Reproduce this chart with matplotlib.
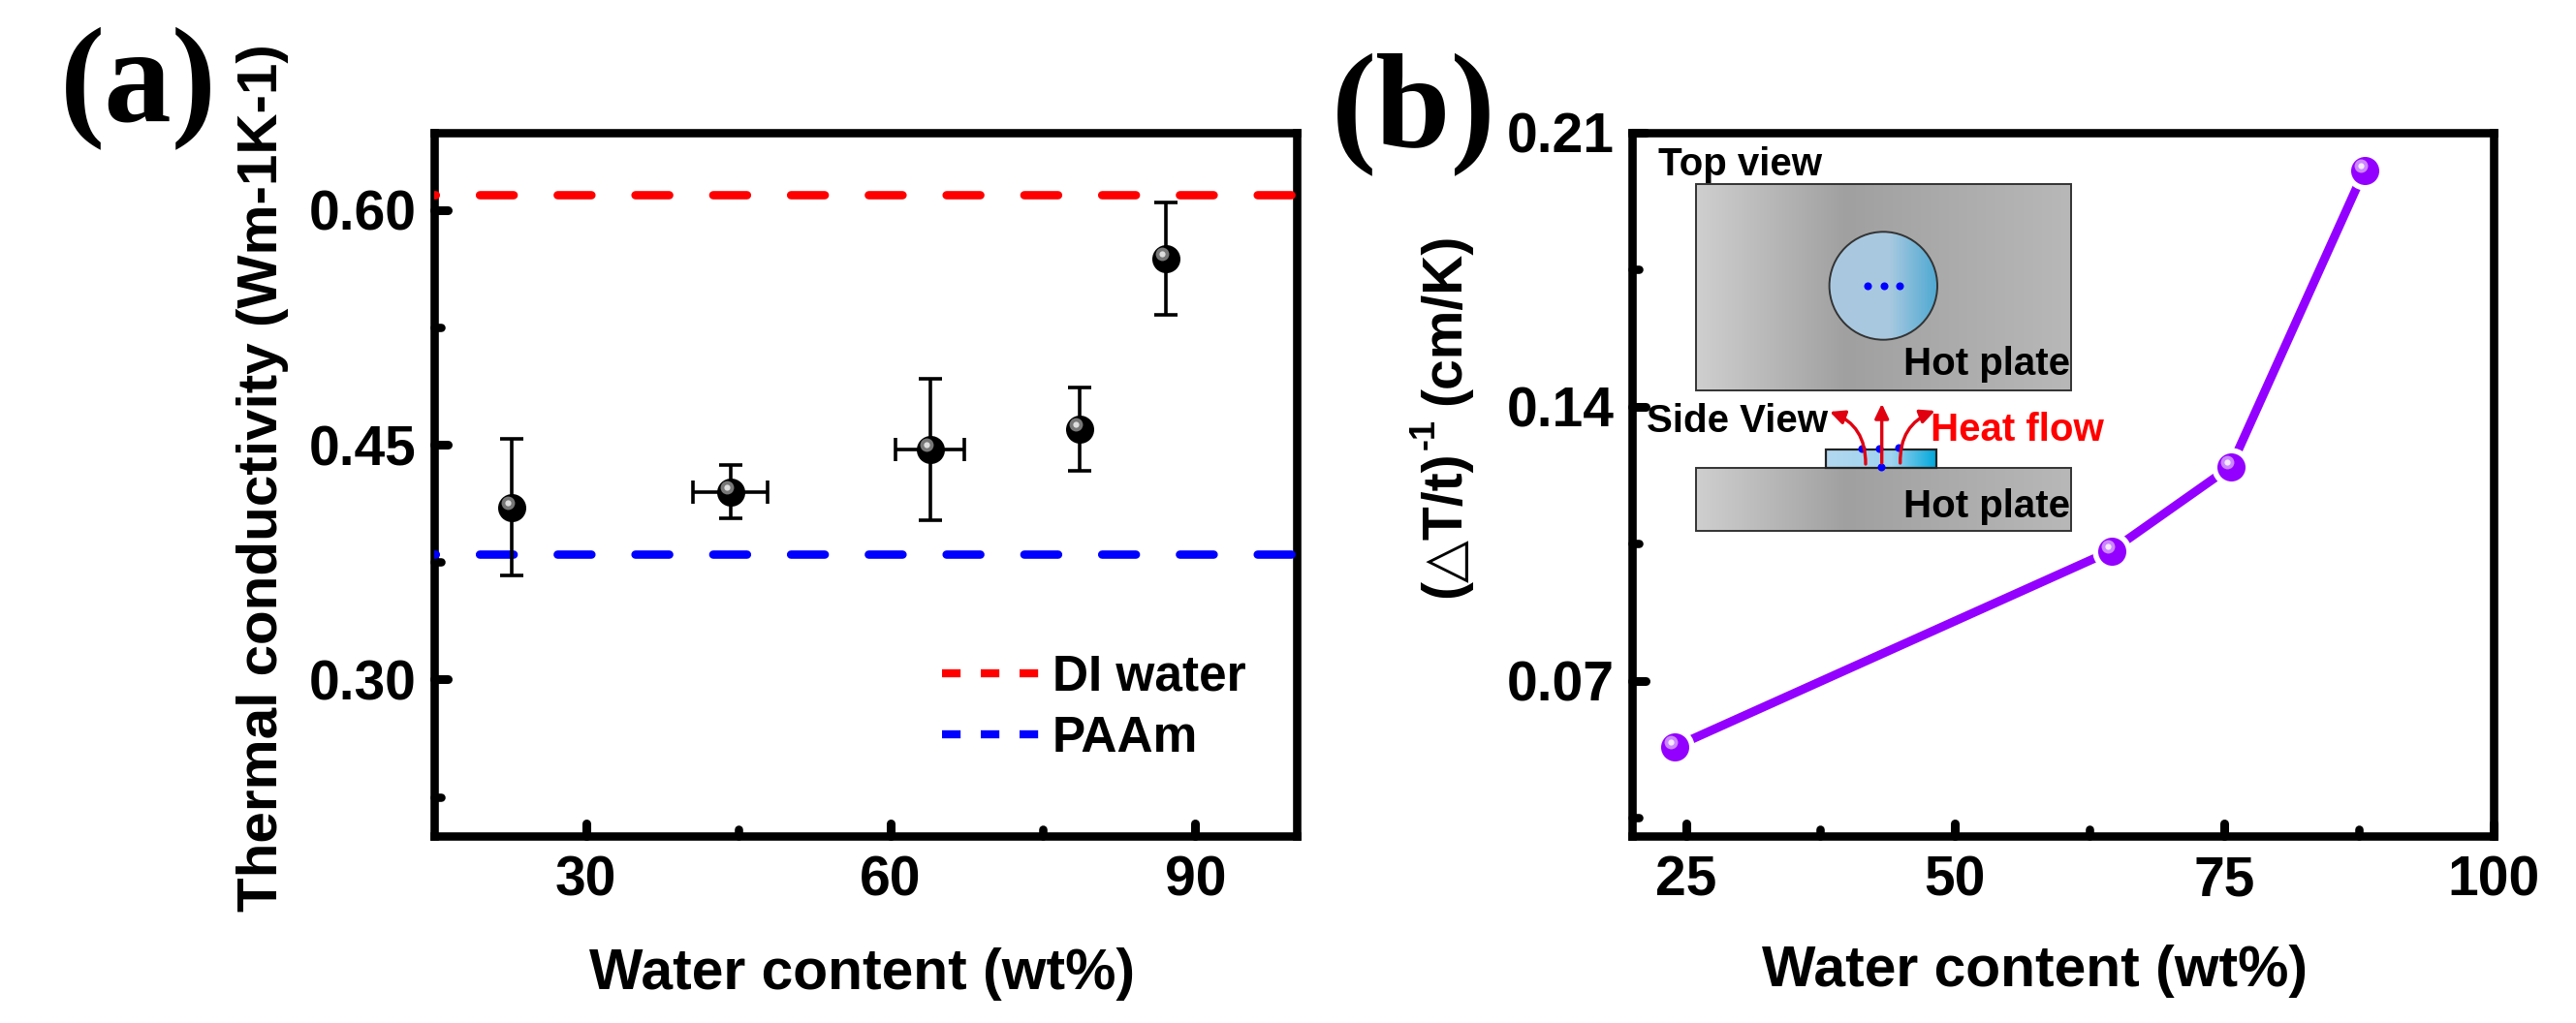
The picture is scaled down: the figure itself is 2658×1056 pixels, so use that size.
import numpy as np
import matplotlib
matplotlib.use("Agg")
import matplotlib.pyplot as plt
from matplotlib.colors import LinearSegmentedColormap
from matplotlib.lines import Line2D
from matplotlib.markers import MarkerStyle
from matplotlib.patches import Circle, FancyArrowPatch, Rectangle
from matplotlib.transforms import offset_copy

W, H = 2658, 1056

# panel a
water_a = [22.7, 44.2, 63.9, 78.6, 87.1]
cond = [0.410, 0.420, 0.447, 0.460, 0.569]
cond_err = [0.0435, 0.017, 0.045, 0.0265, 0.036]
water_a_err = [0, 3.7, 3.4, 0, 0]
di_water = 0.61
paam = 0.38

# panel b
water_b = [24.0, 64.5, 75.6, 88.0]
inv_rate = [0.0532, 0.1032, 0.1247, 0.2003]

plt.rcParams["font.family"] = ["Liberation Sans", "DejaVu Sans"]
plt.rcParams["font.weight"] = "bold"
plt.rcParams["axes.labelweight"] = "bold"
plt.rcParams["axes.linewidth"] = 6.2


def make_axes(x0, x1, y0, y1):
    return fig.add_axes([x0 / W, (H - y1) / H, (x1 - x0) / W, (y1 - y0) / H])


def style_ticks(ax, xmaj, xmin, ymaj, ymin, ylabels):
    ax.set_xticks(xmaj)
    ax.set_xticks(xmin, minor=True)
    ax.set_yticks(ymaj)
    ax.set_yticks(ymin, minor=True)
    ax.set_yticklabels(ylabels)
    ax.tick_params(axis="x", which="major", direction="in", length=9.2, width=6.5, labelsize=41, pad=14)
    ax.tick_params(axis="y", which="major", direction="in", length=10, width=6.5, labelsize=41, pad=13)
    ax.tick_params(which="minor", direction="in", length=4.7, width=6.2)
    for axis in (ax.xaxis, ax.yaxis):
        for tick in axis.get_major_ticks() + axis.get_minor_ticks():
            tick.tick1line.set_marker(MarkerStyle(tick.tick1line.get_marker(), capstyle="round"))


def spheres(ax, x, y, color, ring, core):
    ax.plot(x, y, "o", ms=20.9, color=color, mew=0, zorder=5, clip_on=False)
    shifted = offset_copy(ax.transData, fig=fig, x=-4, y=4.5, units="dots")
    ax.plot(x, y, "o", ms=10, color=ring, mew=0, zorder=6, transform=shifted)
    ax.plot(x, y, "o", ms=4.5, color=core, mew=0, zorder=7, transform=shifted)


fig = plt.figure(figsize=(W / 100, H / 100), dpi=100, facecolor="white")

# (a)
ax1 = make_axes(447.7, 1338, 136.7, 863)
ax1.set_xlim(15, 100)
ax1.set_ylim(0.2, 0.6495)
dash = (3.9, (4.05, 5.27))
ax1.axhline(di_water, color="#ff0000", lw=6.2, ls=dash, dash_capstyle="round", zorder=3)
ax1.axhline(paam, color="#0000ff", lw=6.2, ls=dash, dash_capstyle="round", zorder=3)
ax1.errorbar(water_a, cond, yerr=cond_err, xerr=water_a_err, fmt="none", ecolor="black",
             elinewidth=2.6, capsize=8.3, capthick=2.6, zorder=4)
spheres(ax1, water_a, cond, "#000000", "#777777", "#dddddd")
style_ticks(ax1, [30, 60, 90], [45, 75], [0.30, 0.45, 0.60], [0.225, 0.375, 0.525],
            ["0.30", "0.45", "0.60"])
ax1.set_xlabel("Water content (wt%)", fontsize=42.3)
ax1.xaxis.set_label_coords((890 - 447.7) / 890.3, (863 - 978) / 726.3)
ax1.set_ylabel("Thermal conductivity (Wm-1K-1)", fontsize=42)
ax1.yaxis.set_label_coords((298 - 447.7) / 890.3, (863 - 493.5) / 726.3)
handles = [Line2D([], [], color="#ff0000", lw=6, ls=(0, (2.3, 2.5))),
           Line2D([], [], color="#0000ff", lw=6, ls=(0, (2.3, 2.5)))]
ax1.legend(handles, ["DI water", "PAAm"], loc="center left", frameon=False, fontsize=37,
           bbox_to_anchor=((972 - 447.7) / 890.3, (863 - 731) / 726.3), borderpad=0,
           borderaxespad=0, handlelength=1.96, handletextpad=0.25, labelspacing=0.28)

# (b)
ax2 = make_axes(1684, 2573, 136.7, 863)
ax2.set_xlim(20, 100)
ax2.set_ylim(0.0304, 0.21)
ax2.plot(water_b, inv_rate, color="#9400ff", lw=6.5, solid_capstyle="round", zorder=3)
ax2.plot(water_b, inv_rate, "o", ms=29, color="white", mew=0, zorder=4)
spheres(ax2, water_b, inv_rate, "#9400ff", "#cc88ff", "#f5e8ff")
style_ticks(ax2, [25, 50, 75, 100], [37.5, 62.5, 87.5], [0.07, 0.14, 0.21], [0.035, 0.105, 0.175],
            ["0.07", "0.14", "0.21"])
ax2.set_xlabel("Water content (wt%)", fontsize=42.3)
ax2.xaxis.set_label_coords((2100 - 1684) / 889, (863 - 975) / 726.3)

# schematic and loose texts, laid out in figure pixels
ov = fig.add_axes([0, 0, 1, 1], facecolor="none")
ov.axis("off")

plate_cmap = LinearSegmentedColormap.from_list("plate", [(0, "#cfcfcf"), (0.4, "#a0a0a0"), (1, "#b8b8b8")])
drop_cmap = LinearSegmentedColormap.from_list("drop", [(0, "#aac8e0"), (0.55, "#a8c9e0"), (1, "#4ca8d2")])
side_cmap = LinearSegmentedColormap.from_list("side", [(0, "#b2d8f0"), (0.6, "#9fd3ef"), (1, "#00a8dc")])
ramp = np.linspace(0, 1, 256).reshape(1, -1)

for y0, y1 in [(190, 402.7), (483, 548)]:
    ov.imshow(ramp, cmap=plate_cmap, extent=(1750, 2136.7, y1, y0), aspect="auto", zorder=8)
    ov.add_patch(Rectangle((1750, y0), 386.7, y1 - y0, fc="none", ec="#333333", lw=1.4, zorder=9))

im = ov.imshow(ramp, cmap=drop_cmap, extent=(1887.6, 1999, 350.7, 239.3), aspect="auto", zorder=9)
circ = Circle((1943.3, 295), 55.7, fc="none", ec="#333333", lw=1.4, zorder=10)
ov.add_patch(circ)
im.set_clip_path(circ)
ov.plot([1927, 1944, 1959.7], [294.7, 294.7, 294.7], "o", ms=5.8, color="#0000ff", mew=0, zorder=11)

ov.imshow(ramp, cmap=side_cmap, extent=(1884, 1998, 482.7, 464), aspect="auto", zorder=9)
ov.add_patch(Rectangle((1884, 464), 114, 18.7, fc="none", ec="#222222", lw=1.6, zorder=10))
ov.plot([1921, 1939, 1959.3, 1941], [462.7, 462.7, 461.7, 481.7], "o", ms=5.8, color="#0000ff",
        mew=0, zorder=11, clip_on=False)
arrows = [((1925, 479), (1888, 425), "arc3,rad=0.35"),
          ((1941.7, 478), (1941.7, 416.7), "arc3,rad=0"),
          ((1960.7, 478), (1996.7, 424), "arc3,rad=-0.35")]
for start, end, style in arrows:
    ov.add_patch(FancyArrowPatch(start, end, connectionstyle=style, arrowstyle="-|>,head_length=9,head_width=4.3",
                                 fc="#e00010", ec="#e00010", lw=2.4, mutation_scale=1, zorder=12,
                                 shrinkA=0, shrinkB=0))

ov.text(1710.7, 180.7, "Top view", fontsize=29, va="baseline", zorder=13)
ov.text(1964, 386.7, "Hot plate", fontsize=29, va="baseline", zorder=13)
ov.text(1964, 534, "Hot plate", fontsize=29, va="baseline", zorder=13)
ov.text(1699, 446, "Side View", fontsize=29, va="baseline", zorder=13)
ov.text(1991.7, 455, "Heat flow", fontsize=29, va="baseline", color="#ff0000", zorder=13)

ov.text(62, 125, "(a)", family="Liberation Serif", fontsize=100, va="baseline", ha="left")
ov.text(1374, 152, "(b)", family="Liberation Serif", fontsize=100, va="baseline", ha="left")

ov.text(1491, 617, "(△T/t)", fontsize=41, rotation=90, ha="center", va="bottom")
ov.text(1470, 464, "-1", fontsize=26, rotation=90, ha="center", va="bottom")
ov.text(1491, 418, "(cm/K)", fontsize=41, rotation=90, ha="center", va="bottom")

ov.set_xlim(0, W)
ov.set_ylim(H, 0)

fig.savefig("out.png", dpi=100)
